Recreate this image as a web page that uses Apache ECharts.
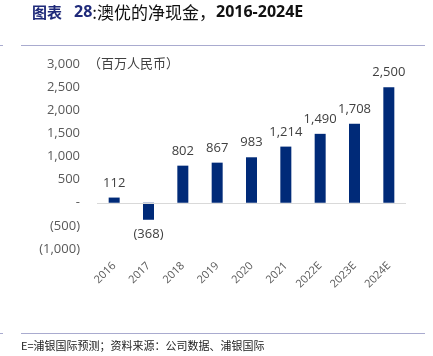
<!DOCTYPE html>
<html><head><meta charset="utf-8">
<script src="https://cdn.jsdelivr.net/npm/echarts@6/dist/echarts.min.js"></script>
<style>html,body{margin:0;padding:0;background:#fff}#c{width:433px;height:356px}</style>
</head><body><div id="c"></div>
<script>
const categories = ['2016','2017','2018','2019','2020','2021','2022E','2023E','2024E'];
const netCash = [112, -368, 802, 867, 983, 1214, 1490, 1708, 2500];
const yTicks = [-1000, 3000, 500];
const titleParts = ['图表', '28', ':澳优的净现金，', '2016-2024E'];
const unitText = '（百万人民币）';
const footText = 'E=浦银国际预测；资料来源：公司数据、浦银国际';

function fmt(v){
  if (v === 0) return '-';
  const s = Math.abs(v).toLocaleString('en-US');
  return v < 0 ? '(' + s + ')' : s;
}
const chart = echarts.init(document.getElementById('c'), null, {renderer:'canvas'});
const fontCJK = '"Noto Sans CJK SC", "Noto Sans", sans-serif';
chart.setOption({
  animation:false,
  textStyle:{fontFamily:'"Open Sans","Noto Sans", sans-serif'},
  grid:{left:97, right:27, top:64, bottom:107, containLabel:false},
  xAxis:{type:'category', data:categories,
    axisLine:{show:false}, axisTick:{show:false},
    axisLabel:{rotate:45, color:'#595959', fontSize:11, margin:15, interval:0}},
  yAxis:{type:'value', min:yTicks[0], max:yTicks[1], interval:yTicks[2],
    splitLine:{show:false}, axisLine:{show:false}, axisTick:{show:false},
    axisLabel:{color:'#595959', fontSize:13, margin:17, formatter:fmt}},
  series:[{type:'bar', barWidth:11,
    itemStyle:{color:'#002A78'},
    data:netCash.map(v=>({value:v, label:{position: v<0?'bottom':'top'}})),
    label:{show:true, color:'#404040', fontSize:13, distance:8, formatter:p=>fmt(p.value)},
    markLine:{silent:true, symbol:'none', label:{show:false},
      lineStyle:{color:'#D9D9D9', width:1, type:'solid'}, data:[{yAxis:0}]}
  }],
  graphic:[
    {type:'text', left:32, top:4, style:{
      text:'{a|'+titleParts[0]+'}{b|'+titleParts[1]+'}{c|'+titleParts[2]+'}{d|'+titleParts[3]+'}',
      rich:{
        a:{fill:'#1F2A7A', fontSize:15, fontWeight:'bold', fontFamily:fontCJK, padding:[0,12,0,0]},
        b:{fill:'#1F2A7A', fontSize:16, fontWeight:'bold', fontFamily:'"Open Sans", sans-serif'},
        c:{fill:'#111', fontSize:17, fontFamily:fontCJK},
        d:{fill:'#111', fontSize:16, fontWeight:'bold', fontFamily:'"Open Sans", sans-serif'}
      }}},
    {type:'line', shape:{x1:21,y1:45.5,x2:425,y2:45.5}, style:{stroke:'#A9ABCF', lineWidth:1}},
    {type:'line', shape:{x1:0,y1:45.5,x2:3,y2:45.5}, style:{stroke:'#A9ABCF', lineWidth:1}},
    {type:'line', shape:{x1:21,y1:333.5,x2:425,y2:333.5}, style:{stroke:'#A9ABCF', lineWidth:1}},
    {type:'line', shape:{x1:0,y1:333.5,x2:3,y2:333.5}, style:{stroke:'#A9ABCF', lineWidth:1}},
    {type:'text', left:88, top:57, style:{text:unitText, fill:'#404040', font:'13px '+fontCJK}},
    {type:'text', left:21, top:340, style:{text:footText, fill:'#222', font:'11px '+fontCJK}}
  ]
});
</script></body></html>
